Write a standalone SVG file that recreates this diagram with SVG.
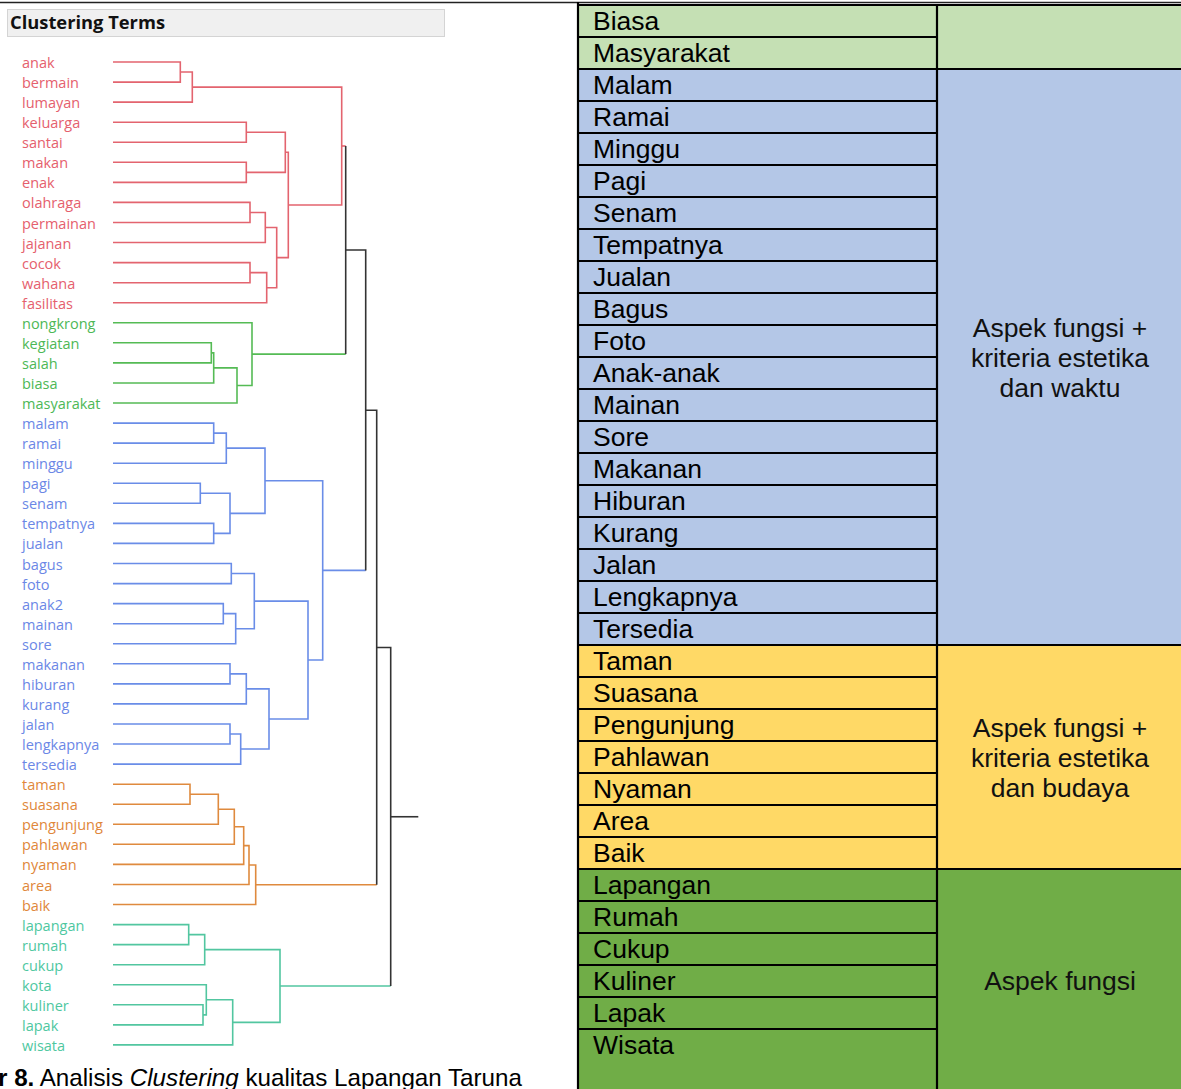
<svg xmlns="http://www.w3.org/2000/svg" width="1181" height="1089" viewBox="0 0 1181 1089">
<style>
.lbl{font-family:"Open Sans","Noto Sans","DejaVu Sans",sans-serif;font-size:14.5px}
.r{fill:#e5606d}.g{fill:#4db856}.b{fill:#6b87e6}.o{fill:#e0873a}.t{fill:#4ec79f}
.lr{stroke:#e3646f}.lg{stroke:#55bb55}.lb{stroke:#6a8de8}.lo{stroke:#df8a3e}.lt{stroke:#52c6a0}.lk{stroke:#333}
.conn path{fill:none;stroke-width:1.6}
.cell{font-family:"Liberation Sans",Arial,sans-serif;font-size:26.5px;fill:#000}
.aspect{font-family:"Liberation Sans",Arial,sans-serif;font-size:26.5px;fill:#111;text-anchor:middle}
.grid line{stroke:#000;stroke-width:2.2}
</style>
<rect width="1181" height="1089" fill="#fff"/>
<line x1="0" y1="2.5" x2="1181" y2="2.5" stroke="#222" stroke-width="1.5"/>
<g id="title">
<rect x="7.5" y="9.5" width="437" height="27" fill="#f0f0f0" stroke="#d4d4d4" stroke-width="1"/>
<text x="10" y="29" font-family="'Open Sans','Noto Sans',sans-serif" font-weight="bold" font-size="17.5px" fill="#111" textLength="155" lengthAdjust="spacingAndGlyphs">Clustering Terms</text>
</g>
<g id="leaves" class="lbl">
<g id="leaf-anak"><text x="22" y="68" class="r">anak</text></g>
<g id="leaf-bermain"><text x="22" y="88.1" class="r">bermain</text></g>
<g id="leaf-lumayan"><text x="22" y="108.1" class="r">lumayan</text></g>
<g id="leaf-keluarga"><text x="22" y="128.2" class="r">keluarga</text></g>
<g id="leaf-santai"><text x="22" y="148.2" class="r">santai</text></g>
<g id="leaf-makan"><text x="22" y="168.3" class="r">makan</text></g>
<g id="leaf-enak"><text x="22" y="188.4" class="r">enak</text></g>
<g id="leaf-olahraga"><text x="22" y="208.4" class="r">olahraga</text></g>
<g id="leaf-permainan"><text x="22" y="228.5" class="r">permainan</text></g>
<g id="leaf-jajanan"><text x="22" y="248.5" class="r">jajanan</text></g>
<g id="leaf-cocok"><text x="22" y="268.6" class="r">cocok</text></g>
<g id="leaf-wahana"><text x="22" y="288.7" class="r">wahana</text></g>
<g id="leaf-fasilitas"><text x="22" y="308.7" class="r">fasilitas</text></g>
<g id="leaf-nongkrong"><text x="22" y="328.8" class="g">nongkrong</text></g>
<g id="leaf-kegiatan"><text x="22" y="348.8" class="g">kegiatan</text></g>
<g id="leaf-salah"><text x="22" y="368.9" class="g">salah</text></g>
<g id="leaf-biasa"><text x="22" y="389" class="g">biasa</text></g>
<g id="leaf-masyarakat"><text x="22" y="409" class="g">masyarakat</text></g>
<g id="leaf-malam"><text x="22" y="429.1" class="b">malam</text></g>
<g id="leaf-ramai"><text x="22" y="449.1" class="b">ramai</text></g>
<g id="leaf-minggu"><text x="22" y="469.2" class="b">minggu</text></g>
<g id="leaf-pagi"><text x="22" y="489.3" class="b">pagi</text></g>
<g id="leaf-senam"><text x="22" y="509.3" class="b">senam</text></g>
<g id="leaf-tempatnya"><text x="22" y="529.4" class="b">tempatnya</text></g>
<g id="leaf-jualan"><text x="22" y="549.4" class="b">jualan</text></g>
<g id="leaf-bagus"><text x="22" y="569.5" class="b">bagus</text></g>
<g id="leaf-foto"><text x="22" y="589.6" class="b">foto</text></g>
<g id="leaf-anak2"><text x="22" y="609.6" class="b">anak2</text></g>
<g id="leaf-mainan"><text x="22" y="629.7" class="b">mainan</text></g>
<g id="leaf-sore"><text x="22" y="649.7" class="b">sore</text></g>
<g id="leaf-makanan"><text x="22" y="669.8" class="b">makanan</text></g>
<g id="leaf-hiburan"><text x="22" y="689.9" class="b">hiburan</text></g>
<g id="leaf-kurang"><text x="22" y="709.9" class="b">kurang</text></g>
<g id="leaf-jalan"><text x="22" y="730" class="b">jalan</text></g>
<g id="leaf-lengkapnya"><text x="22" y="750" class="b">lengkapnya</text></g>
<g id="leaf-tersedia"><text x="22" y="770.1" class="b">tersedia</text></g>
<g id="leaf-taman"><text x="22" y="790.2" class="o">taman</text></g>
<g id="leaf-suasana"><text x="22" y="810.2" class="o">suasana</text></g>
<g id="leaf-pengunjung"><text x="22" y="830.3" class="o">pengunjung</text></g>
<g id="leaf-pahlawan"><text x="22" y="850.3" class="o">pahlawan</text></g>
<g id="leaf-nyaman"><text x="22" y="870.4" class="o">nyaman</text></g>
<g id="leaf-area"><text x="22" y="890.5" class="o">area</text></g>
<g id="leaf-baik"><text x="22" y="910.5" class="o">baik</text></g>
<g id="leaf-lapangan"><text x="22" y="930.6" class="t">lapangan</text></g>
<g id="leaf-rumah"><text x="22" y="950.6" class="t">rumah</text></g>
<g id="leaf-cukup"><text x="22" y="970.7" class="t">cukup</text></g>
<g id="leaf-kota"><text x="22" y="990.8" class="t">kota</text></g>
<g id="leaf-kuliner"><text x="22" y="1010.8" class="t">kuliner</text></g>
<g id="leaf-lapak"><text x="22" y="1030.9" class="t">lapak</text></g>
<g id="leaf-wisata"><text x="22" y="1050.9" class="t">wisata</text></g>
</g>
<g id="connectors" class="conn">
<g class="lr">
<path d="M113 62 H180.3 V82.1 H113"/>
<path d="M180.3 72.05 H192.3 V102.1 H113"/>
<path d="M113 122.2 H246.3 V142.2 H113"/>
<path d="M113 162.3 H246.3 V182.4 H113"/>
<path d="M246.3 132.2 H285.3 V172.35 H246.3"/>
<path d="M113 202.4 H250 V222.5 H113"/>
<path d="M250 212.45 H265.3 V242.5 H113"/>
<path d="M113 262.6 H250 V282.7 H113"/>
<path d="M250 272.65 H266.7 V302.7 H113"/>
<path d="M265.3 227.5 H276.7 V287.7 H266.7"/>
<path d="M285.3 152.3 H288.3 V257.6 H276.7"/>
<path d="M192.3 87.1 H341.7 V204.95 H288.3"/>
<path d="M341.7 146 H345.7"/>
</g>
<g class="lg">
<path d="M113 342.8 H211.3 V362.9 H113"/>
<path d="M211.3 352.85 H213.7 V383 H113"/>
<path d="M213.7 367.9 H237 V403 H113"/>
<path d="M113 322.8 H252 V385.45 H237"/>
<path d="M252 354.1 H345.7"/>
</g>
<g class="lb">
<path d="M113 423.1 H213.7 V443.1 H113"/>
<path d="M213.7 433.1 H226.3 V463.2 H113"/>
<path d="M113 483.3 H200.3 V503.3 H113"/>
<path d="M113 523.4 H213.7 V543.4 H113"/>
<path d="M200.3 493.3 H230 V533.4 H213.7"/>
<path d="M226.3 448.15 H265 V513.35 H230"/>
<path d="M113 563.5 H231.3 V583.6 H113"/>
<path d="M113 603.6 H223.3 V623.7 H113"/>
<path d="M223.3 613.65 H235.7 V643.7 H113"/>
<path d="M231.3 573.55 H254.3 V628.7 H235.7"/>
<path d="M113 663.8 H230 V683.9 H113"/>
<path d="M230 673.85 H246.3 V703.9 H113"/>
<path d="M113 724 H230 V744 H113"/>
<path d="M230 734 H240.7 V764.1 H113"/>
<path d="M246.3 688.9 H269 V749.05 H240.7"/>
<path d="M254.3 601.1 H308 V718.95 H269"/>
<path d="M265 480.75 H322.7 V660 H308"/>
<path d="M322.7 570.4 H365.7"/>
</g>
<g class="lo">
<path d="M113 784.2 H190 V804.2 H113"/>
<path d="M190 794.2 H218.3 V824.3 H113"/>
<path d="M218.3 809.25 H234.3 V844.3 H113"/>
<path d="M234.3 826.8 H243.7 V864.4 H113"/>
<path d="M243.7 845.6 H249 V884.5 H113"/>
<path d="M249 865.05 H255.7 V904.5 H113"/>
<path d="M255.7 884.8 H376.7"/>
</g>
<g class="lt">
<path d="M113 924.6 H188.7 V944.6 H113"/>
<path d="M188.7 934.6 H204.7 V964.7 H113"/>
<path d="M113 1004.8 H203 V1024.9 H113"/>
<path d="M113 984.8 H206.3 V1014.85 H203"/>
<path d="M206.3 999.8 H232.7 V1044.9 H113"/>
<path d="M204.7 949.65 H280 V1022.35 H232.7"/>
<path d="M280 986 H390.7"/>
</g>
<g class="lk">
<path d="M345.7 146 V354.1"/>
<path d="M345.7 250.05 H365.7 V570.4"/>
<path d="M365.7 410.2 H376.7 V884.8"/>
<path d="M376.7 647.5 H390.7 V986"/>
<path d="M390.7 816.75 H418.3"/>
</g>
</g>
<g id="caption">
<text x="-2" y="1086" font-family="'Liberation Sans',Arial,sans-serif" font-size="24.2px" fill="#000"><tspan font-weight="bold">r 8.</tspan> Analisis <tspan font-style="italic">Clustering</tspan> kualitas Lapangan Taruna</text>
</g>
<g id="table">
<rect x="578" y="5" width="605" height="64" fill="#c5e0b4"/>
<rect x="578" y="69" width="605" height="576" fill="#b4c7e7"/>
<rect x="578" y="645" width="605" height="224" fill="#ffd966"/>
<rect x="578" y="869" width="605" height="222" fill="#70ad47"/>
<g class="grid">
<line x1="578" y1="5" x2="1183" y2="5"/>
<line x1="578" y1="2" x2="578" y2="1089"/>
<line x1="937" y1="5" x2="937" y2="1089"/>
<line x1="937" y1="69" x2="1183" y2="69"/>
<line x1="937" y1="645" x2="1183" y2="645"/>
<line x1="937" y1="869" x2="1183" y2="869"/>
<line x1="578" y1="37" x2="937" y2="37"/>
<line x1="578" y1="69" x2="937" y2="69"/>
<line x1="578" y1="101" x2="937" y2="101"/>
<line x1="578" y1="133" x2="937" y2="133"/>
<line x1="578" y1="165" x2="937" y2="165"/>
<line x1="578" y1="197" x2="937" y2="197"/>
<line x1="578" y1="229" x2="937" y2="229"/>
<line x1="578" y1="261" x2="937" y2="261"/>
<line x1="578" y1="293" x2="937" y2="293"/>
<line x1="578" y1="325" x2="937" y2="325"/>
<line x1="578" y1="357" x2="937" y2="357"/>
<line x1="578" y1="389" x2="937" y2="389"/>
<line x1="578" y1="421" x2="937" y2="421"/>
<line x1="578" y1="453" x2="937" y2="453"/>
<line x1="578" y1="485" x2="937" y2="485"/>
<line x1="578" y1="517" x2="937" y2="517"/>
<line x1="578" y1="549" x2="937" y2="549"/>
<line x1="578" y1="581" x2="937" y2="581"/>
<line x1="578" y1="613" x2="937" y2="613"/>
<line x1="578" y1="645" x2="937" y2="645"/>
<line x1="578" y1="677" x2="937" y2="677"/>
<line x1="578" y1="709" x2="937" y2="709"/>
<line x1="578" y1="741" x2="937" y2="741"/>
<line x1="578" y1="773" x2="937" y2="773"/>
<line x1="578" y1="805" x2="937" y2="805"/>
<line x1="578" y1="837" x2="937" y2="837"/>
<line x1="578" y1="869" x2="937" y2="869"/>
<line x1="578" y1="901" x2="937" y2="901"/>
<line x1="578" y1="933" x2="937" y2="933"/>
<line x1="578" y1="965" x2="937" y2="965"/>
<line x1="578" y1="997" x2="937" y2="997"/>
<line x1="578" y1="1029" x2="937" y2="1029"/>
</g>
<g class="cell">
<g id="row-biasa"><text x="593" y="30">Biasa</text></g>
<g id="row-masyarakat"><text x="593" y="62">Masyarakat</text></g>
<g id="row-malam"><text x="593" y="94">Malam</text></g>
<g id="row-ramai"><text x="593" y="126">Ramai</text></g>
<g id="row-minggu"><text x="593" y="158">Minggu</text></g>
<g id="row-pagi"><text x="593" y="190">Pagi</text></g>
<g id="row-senam"><text x="593" y="222">Senam</text></g>
<g id="row-tempatnya"><text x="593" y="254">Tempatnya</text></g>
<g id="row-jualan"><text x="593" y="286">Jualan</text></g>
<g id="row-bagus"><text x="593" y="318">Bagus</text></g>
<g id="row-foto"><text x="593" y="350">Foto</text></g>
<g id="row-anak-anak"><text x="593" y="382">Anak-anak</text></g>
<g id="row-mainan"><text x="593" y="414">Mainan</text></g>
<g id="row-sore"><text x="593" y="446">Sore</text></g>
<g id="row-makanan"><text x="593" y="478">Makanan</text></g>
<g id="row-hiburan"><text x="593" y="510">Hiburan</text></g>
<g id="row-kurang"><text x="593" y="542">Kurang</text></g>
<g id="row-jalan"><text x="593" y="574">Jalan</text></g>
<g id="row-lengkapnya"><text x="593" y="606">Lengkapnya</text></g>
<g id="row-tersedia"><text x="593" y="638">Tersedia</text></g>
<g id="row-taman"><text x="593" y="670">Taman</text></g>
<g id="row-suasana"><text x="593" y="702">Suasana</text></g>
<g id="row-pengunjung"><text x="593" y="734">Pengunjung</text></g>
<g id="row-pahlawan"><text x="593" y="766">Pahlawan</text></g>
<g id="row-nyaman"><text x="593" y="798">Nyaman</text></g>
<g id="row-area"><text x="593" y="830">Area</text></g>
<g id="row-baik"><text x="593" y="862">Baik</text></g>
<g id="row-lapangan"><text x="593" y="894">Lapangan</text></g>
<g id="row-rumah"><text x="593" y="926">Rumah</text></g>
<g id="row-cukup"><text x="593" y="958">Cukup</text></g>
<g id="row-kuliner"><text x="593" y="990">Kuliner</text></g>
<g id="row-lapak"><text x="593" y="1022">Lapak</text></g>
<g id="row-wisata"><text x="593" y="1054">Wisata</text></g>
</g>
<g id="aspect-waktu" class="aspect">
<text x="1060" y="336.5">Aspek fungsi +</text>
<text x="1060" y="366.5">kriteria estetika</text>
<text x="1060" y="396.5">dan waktu</text>
</g>
<g id="aspect-budaya" class="aspect">
<text x="1060" y="736.5">Aspek fungsi +</text>
<text x="1060" y="766.5">kriteria estetika</text>
<text x="1060" y="796.5">dan budaya</text>
</g>
<g id="aspect-fungsi" class="aspect">
<text x="1060" y="989.5">Aspek fungsi</text>
</g>
</g>
</svg>
